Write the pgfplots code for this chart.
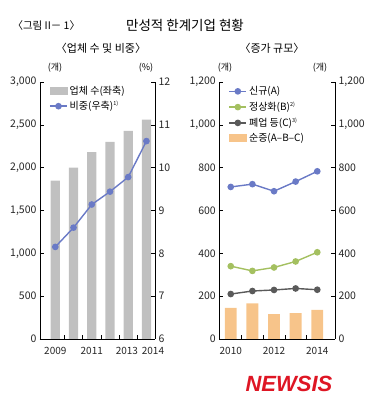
\documentclass[border=0pt]{standalone}
\usepackage{pgfplots}
\pgfplotsset{compat=1.18}
\usepackage{fontspec}
\setmainfont{Noto Sans CJK KR}
\newfontfamily\newsisfont{Liberation Sans}
\definecolor{barg}{RGB}{192,192,192}
\definecolor{lblue}{RGB}{106,122,198}
\definecolor{lgreen}{RGB}{164,192,96}
\definecolor{dgray}{RGB}{90,90,90}
\definecolor{borange}{RGB}{247,196,138}
\definecolor{nred}{RGB}{222,22,36}
\pgfplotsset{
  every axis/.append style={
    scale only axis,
    tick align=inside,
    major tick length=4pt,
    minor tick length=4pt,
    tick style={black, line width=0.5pt},
    axis line style={black, line width=0.6pt},
    /pgf/number format/assume math mode=true,
    /pgf/number format/1000 sep={,},
    tick label style={font=\fontsize{10.5}{11}\selectfont, text=black!85},
  },
  myarea/.style={legend image code/.code={\fill[##1, draw=none] (0cm,-0.12cm) rectangle (0.62cm,0.16cm);}},
}
\begin{document}
\begin{tikzpicture}[x=1pt,y=1pt]
\useasboundingbox (0,0) rectangle (375,419);
% titles
\node[anchor=west, font=\fontsize{10.5}{12}\selectfont] at (9,393) {〈그림 II－ 1〉};
\node[font=\fontsize{13.5}{15}\selectfont] at (185,394) {만성적 한계기업 현황};
\node[font=\fontsize{11}{12}\selectfont] at (101,371) {〈업체 수 및 비중〉};
\node[font=\fontsize{11}{12}\selectfont] at (272,371) {〈증가 규모〉};
\node[font=\fontsize{9}{10}\selectfont] at (55,351) {(개)};
\node[font=\fontsize{9}{10}\selectfont] at (146,351) {(\%)};
\node[font=\fontsize{9}{10}\selectfont] at (225,351) {(개)};
\node[font=\fontsize{9}{10}\selectfont] at (320,351) {(개)};
% left chart: bars
\begin{axis}[
  at={(40pt,80pt)}, anchor=south west,
  width=115pt, height=257pt,
  xmin=2008.16, xmax=2014.47,
  ymin=0, ymax=3000,
  ytick={0,500,1000,1500,2000,2500,3000},
  axis x line*=bottom, axis y line*=left,
  xtick={2009,2011,2012.93,2014.36},
  xticklabels={2009,2011,2013,2014},
  xticklabel style={yshift=-5pt, font=\fontsize{10}{11}\selectfont},
  major x tick style={draw=none},
  minor xtick={2009.5,2010.5,2011.5,2012.5,2013.5},
  clip=false,
]
\addplot[ybar, bar width=0.51, fill=barg, draw=none] coordinates {
(2009,1850) (2010,2000) (2011,2180) (2012,2300) (2013,2430) (2014,2560)};
\end{axis}
\begin{axis}[
  at={(40pt,80pt)}, anchor=south west,
  width=115pt, height=257pt,
  xmin=2008.16, xmax=2014.47,
  ymin=6, ymax=12,
  ytick={6,7,8,9,10,11,12},
  axis y line*=right, axis x line=none,
  legend style={at={(0.07,0.995)}, anchor=north west, draw=none, fill=none,
    font=\fontsize{10}{11}\selectfont, row sep=1pt, inner sep=1pt},
  legend cell align=left,
]
\addlegendimage{myarea, fill=barg}
\addlegendentry{업체 수(좌축)}
\addplot[lblue, line width=1.4pt, mark=*, mark size=2.6pt, mark options={fill=lblue}] coordinates {
(2009,8.15) (2010,8.6) (2011,9.14) (2012,9.44) (2013,9.78) (2014,10.62)};
\addlegendentry{비중(우축)\textsuperscript{\fontsize{5.5}{5}\selectfont 1)}}
\end{axis}
% right chart
\begin{axis}[
  at={(219.3pt,80pt)}, anchor=south west,
  width=115.7pt, height=257pt,
  xmin=2009.47, xmax=2014.82,
  ymin=0, ymax=1200,
  ytick={0,200,400,600,800,1000,1200},
  axis x line*=bottom, axis y line*=left,
  xtick={2010,2012,2014},
  xticklabels={2010,2012,2014},
  xticklabel style={yshift=-5pt, font=\fontsize{10}{11}\selectfont},
  major x tick style={draw=none},
  minor xtick={2010.5,2011.5,2012.5,2013.5},
  legend style={at={(0.07,0.995)}, anchor=north west, draw=none, fill=none,
    font=\fontsize{10}{11}\selectfont, row sep=2pt, inner sep=1pt},
  legend cell align=left,
  clip=false,
]
\addplot[lblue, line width=1.4pt, mark=*, mark size=2.6pt, mark options={fill=lblue}] coordinates {
(2010,710) (2011,723) (2012,690) (2013,735) (2014,783)};
\addlegendentry{신규(A)}
\addplot[lgreen, line width=1.4pt, mark=*, mark size=2.6pt, mark options={fill=lgreen}] coordinates {
(2010,340) (2011,318) (2012,334) (2013,362) (2014,405)};
\addlegendentry{정상화(B)\textsuperscript{\fontsize{5.5}{5}\selectfont 2)}}
\addplot[dgray, line width=1.4pt, mark=*, mark size=2.6pt, mark options={fill=dgray}] coordinates {
(2010,210) (2011,224) (2012,229) (2013,236) (2014,230)};
\addlegendentry{폐업 등(C)\textsuperscript{\fontsize{5.5}{5}\selectfont 3)}}
\addplot[ybar, bar width=0.55, fill=borange, draw=none, myarea] coordinates {
(2010,145) (2011,166) (2012,116) (2013,121) (2014,136)};
\addlegendentry{순증(A--B--C)}
\end{axis}
\begin{axis}[
  at={(219.3pt,80pt)}, anchor=south west,
  width=115.7pt, height=257pt,
  xmin=2009.47, xmax=2014.82,
  ymin=0, ymax=1200,
  ytick={0,200,400,600,800,1000,1200},
  axis y line*=right, axis x line=none,
]
\addplot[draw=none] coordinates {(2010,0)};
\end{axis}
\node[font=\newsisfont\bfseries\itshape\fontsize{22}{24}\selectfont, text=nred] at (289,35) {NEWSIS};
\end{tikzpicture}
\end{document}
